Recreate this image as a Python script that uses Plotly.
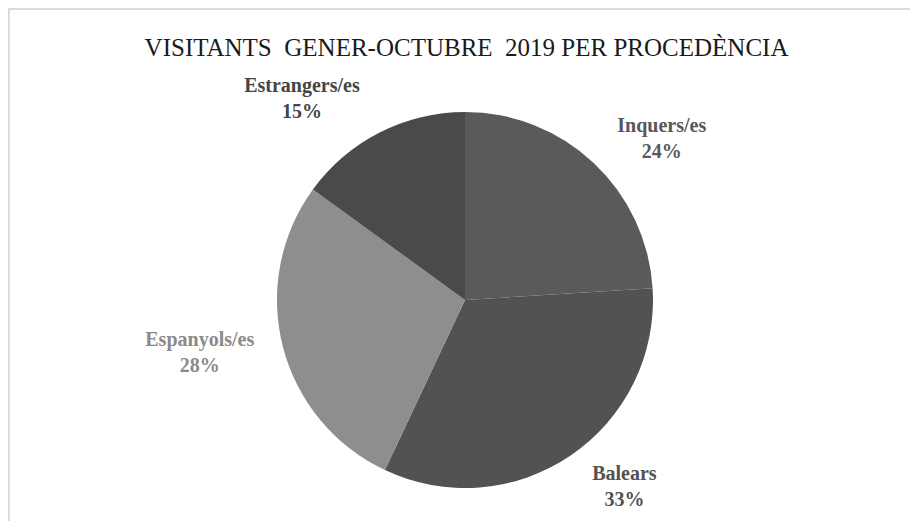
import plotly.graph_objects as go

categories = ["Inquers/es", "Balears", "Espanyols/es", "Estrangers/es"]
values = [24, 33, 28, 15]
slice_colors = ["#5a5a5a", "#525252", "#8e8e8e", "#4a4a4a"]
label_colors = ["#585858", "#525252", "#8a8a8a", "#454545"]
title_text = "VISITANTS  GENER-OCTUBRE  2019 PER PROCEDÈNCIA"

# visible pie
fig = go.Figure(go.Pie(
    labels=categories,
    values=values,
    sort=False,
    direction="clockwise",
    rotation=0,
    marker=dict(colors=slice_colors, line=dict(width=0)),
    textinfo="none",
    domain=dict(x=[0.1913, 0.8043], y=[0.0787, 0.8004]),
    hoverinfo="skip",
    showlegend=False,
    automargin=False,
))

# transparent pie carrying the outside labels at a larger radius
fig.add_trace(go.Pie(
    labels=categories,
    values=values,
    sort=False,
    direction="clockwise",
    rotation=0,
    marker=dict(colors=["rgba(0,0,0,0)"] * len(values), line=dict(width=0)),
    texttemplate="<b>%{label}</b><br><b>%{value}%</b>",
    textposition="outside",
    outsidetextfont=dict(family="Liberation Serif", size=20, color=label_colors),
    domain=dict(x=[0.1913, 0.8043], y=[0.046, 0.833]),
    hoverinfo="skip",
    showlegend=False,
    automargin=False,
))

fig.update_layout(
    width=918, height=521,
    margin=dict(l=0, r=0, t=0, b=0, autoexpand=False),
    paper_bgcolor="white",
    showlegend=False,
    title=dict(text=title_text, x=0.4995, xanchor="center", y=0.925, yanchor="middle",
               automargin=False,
               font=dict(family="Liberation Serif", size=25, color="#1a1a1a")),
    shapes=[dict(type="rect", xref="paper", yref="paper",
                 x0=0.001, x1=1.01, y0=-0.02, y1=1-1/521,
                 line=dict(color="#d0d0d0", width=1.5), fillcolor="rgba(0,0,0,0)")],
)

fig.write_html("out.html")
